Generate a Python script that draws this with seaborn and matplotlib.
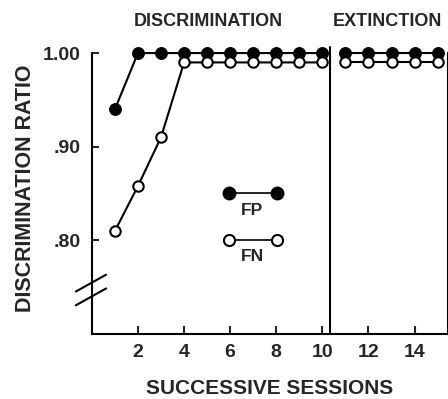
import numpy as np
import pandas as pd
import seaborn as sns
import matplotlib.pyplot as plt
from matplotlib.lines import Line2D

# session data
disc_sessions = [1, 2, 3, 4, 5, 6, 7, 8, 9, 10]
ext_sessions = [11, 12, 13, 14, 15]
fp_disc = [0.94, 1.00, 1.00, 1.00, 1.00, 1.00, 1.00, 1.00, 1.00, 1.00]
fn_disc = [0.81, 0.858, 0.91, 0.99, 0.99, 0.99, 0.99, 0.99, 0.99, 0.99]
fp_ext = [1.00, 1.00, 1.00, 1.00, 1.00]
fn_ext = [0.99, 0.99, 0.99, 0.99, 0.99]
xticks = [2, 4, 6, 8, 10, 12, 14]
yticks = [0.80, 0.90, 1.00]
ytick_labels = [".80", ".90", "1.00"]
phase_split = 10.35

sns.set_style("ticks")
plt.rcParams["font.family"] = ["Liberation Sans", "DejaVu Sans"]

fig = plt.figure(figsize=(4.48, 3.99), dpi=100)
ax = fig.add_axes([0.205, 0.163, 0.795, 0.704])

fp_style = dict(marker="o", markersize=8.5, color="black", markerfacecolor="black",
                markeredgecolor="black", linewidth=1.5, clip_on=False, zorder=3)
fn_style = dict(marker="o", markersize=7.5, color="black", markerfacecolor="white",
                markeredgecolor="black", markeredgewidth=1.5, linewidth=1.5,
                clip_on=False, zorder=4)

for xs, fp, fn in [(disc_sessions, fp_disc, fn_disc), (ext_sessions, fp_ext, fn_ext)]:
    df = pd.DataFrame({"session": xs, "fp": fp, "fn": fn})
    sns.lineplot(data=df, x="session", y="fp", ax=ax, **fp_style)
    sns.lineplot(data=df, x="session", y="fn", ax=ax, **fn_style)

ax.set_xlim(0, 15.45)
ax.set_ylim(0.70, 1.00)
ax.axvline(phase_split, ymax=1.02, color="black", linewidth=1.5, zorder=2, clip_on=False)

ax.set_xticks(xticks)
ax.set_xticklabels([str(t) for t in xticks], fontsize=14, fontweight="bold")
ax.set_yticks(yticks)
ax.set_yticklabels(ytick_labels, fontsize=14, fontweight="bold")
ax.tick_params(axis="x", direction="in", length=6, width=1.5, pad=7)
ax.tick_params(axis="y", direction="in", length=5, width=1.5, pad=8)

for side in ["left", "bottom", "right"]:
    ax.spines[side].set_linewidth(1.5)
    ax.spines[side].set_color("black")
ax.spines["top"].set_visible(False)

ax.set_xlabel("SUCCESSIVE SESSIONS", fontsize=15, fontweight="bold", labelpad=13)
ax.set_ylabel("DISCRIMINATION RATIO", fontsize=15.5, fontweight="bold")
ax.yaxis.set_label_coords(-0.157, 0.52)

# phase titles
ax.text(0.326, 1.114, "DISCRIMINATION", transform=ax.transAxes, ha="center",
        va="center", fontsize=13, fontweight="bold")
ax.text(0.83, 1.114, "EXTINCTION", transform=ax.transAxes, ha="center",
        va="center", fontsize=13, fontweight="bold")

# axis break marks
for yc in [0.181, 0.132]:
    ax.add_line(Line2D([-0.045, 0.04], [yc - 0.03, yc + 0.03], transform=ax.transAxes,
                       color="black", linewidth=1.5, clip_on=False))

# legend keys drawn in the plot area
key_fp = dict(fp_style, markersize=9, linewidth=1.2)
key_fn = dict(fn_style, markersize=8, linewidth=1.2)
ax.add_line(Line2D([0.385, 0.52], [0.503, 0.503], transform=ax.transAxes, **key_fp))
ax.text(0.45, 0.44, "FP", transform=ax.transAxes, ha="center", va="center",
        fontsize=12.5, fontweight="bold")
ax.add_line(Line2D([0.385, 0.52], [0.335, 0.335], transform=ax.transAxes, **key_fn))
ax.text(0.45, 0.275, "FN", transform=ax.transAxes, ha="center", va="center",
        fontsize=12.5, fontweight="bold")

fig.savefig("out.png", dpi=100)
